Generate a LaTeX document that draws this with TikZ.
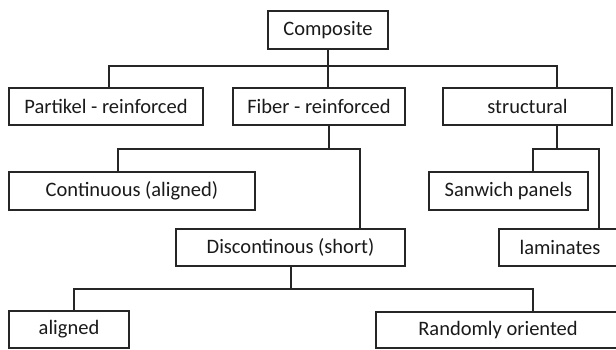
\documentclass[tikz,border=0pt]{standalone}
\usepackage{fontspec}
\setmainfont{Carlito}
\definecolor{ln}{HTML}{262626}
\definecolor{tx}{HTML}{1A1A1A}
\begin{document}
\begin{tikzpicture}[x=1pt,y=-1pt,
  box/.style={draw=ln,line width=1.4pt,rectangle,inner sep=0pt,text=tx,
    font=\fontsize{20.5}{23}\selectfont,minimum height=37pt},
  conn/.style={draw=ln,line width=1.4pt}]
\useasboundingbox (0,0) rectangle (616,350);
\clip (0,0) rectangle (616,350);
\fill[white] (0,0) rectangle (616,350);
\node[box,minimum width=120pt,minimum height=38pt] (comp) at (328,30) {Composite};
\node[box,minimum width=194pt] (part) at (106,106.5) {Partikel - reinforced};
\node[box,minimum width=172pt] (fib) at (319,106.5) {Fiber - reinforced};
\node[box,minimum width=169pt] (struc) at (527.5,106.5) {structural};
\node[box,minimum width=246pt,minimum height=38pt] (cont) at (132,191) {Continuous (aligned)};
\node[box,minimum width=159pt,minimum height=38pt] (sand) at (508.5,191) {Sanwich panels};
\node[box,minimum width=229pt] (disc) at (290.5,247.5) {Discontinous (short)};
\node[box,minimum width=122pt] (lam) at (560,247.5) {laminates};
\node[box,minimum width=120pt] (alig) at (69,329.5) {aligned};
\node[box,minimum width=244pt,minimum height=36pt] (rand) at (498,330) {Randomly oriented};
% level 1
\draw[conn] (comp.south) -- (comp.south |- fib.north);
\draw[conn] (part.north -| 109,0) -- (109,66) -- (557,66) -- (struc.north -| 557,0);
% fiber
\draw[conn] (fib.south -| 329,0) -- (329,149);
\draw[conn] (cont.north -| 118,0) -- (118,149) -- (360,149) -- (disc.north -| 360,0);
% structural
\draw[conn] (struc.south -| 557,0) -- (557,149);
\draw[conn] (sand.north -| 533,0) -- (533,149) -- (599,149) -- (lam.north -| 599,0);
% discontinuous
\draw[conn] (disc.south -| 291,0) -- (291,289);
\draw[conn] (alig.north -| 74,0) -- (74,289) -- (533,289) -- (rand.north -| 533,0);
\end{tikzpicture}
\end{document}
